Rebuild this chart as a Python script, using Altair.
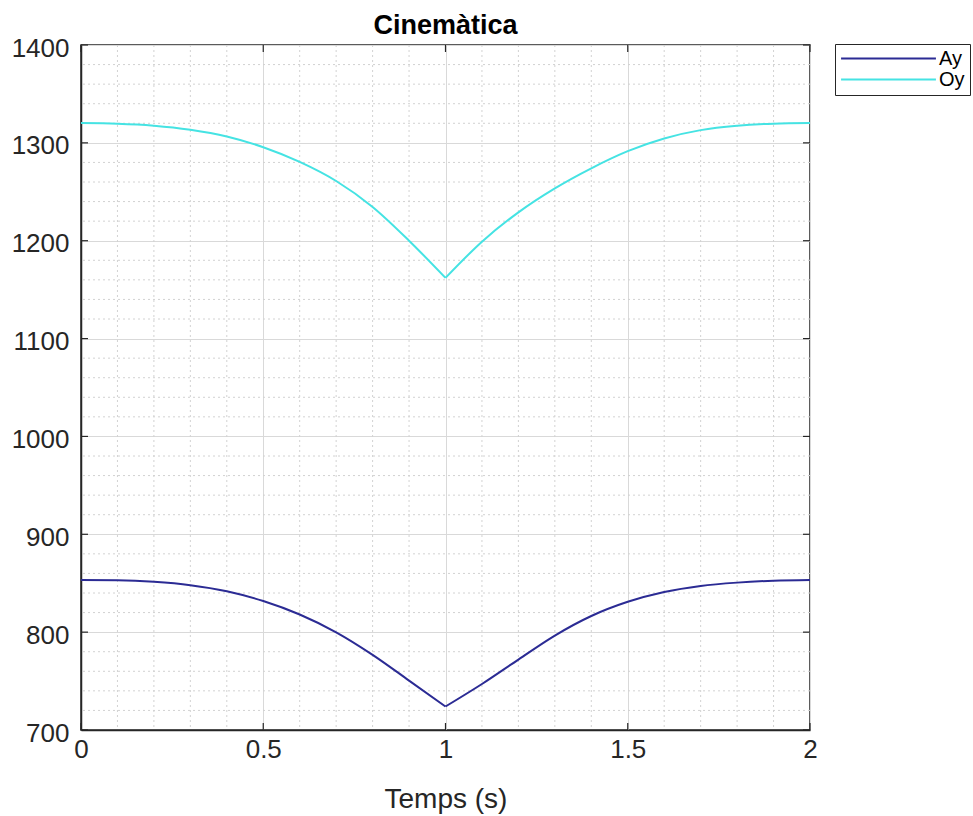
import altair as alt
import pandas as pd

# Time samples (s)
t = [0.0, 0.1, 0.2, 0.3, 0.4, 0.5, 0.6, 0.7, 0.8, 0.9, 1.0,
     1.1, 1.2, 1.3, 1.4, 1.5, 1.6, 1.7, 1.8, 1.9, 2.0]

# Vertical position of point A
ay = [853.3, 853.0, 851.4, 848.0, 841.8, 831.8, 818.0, 799.8, 776.8, 750.5, 724.0,
      747.0, 772.0, 796.5, 816.5, 831.0, 841.0, 847.2, 850.6, 852.6, 853.3]

# Vertical position of point O
oy = [1320.2, 1319.6, 1317.6, 1313.4, 1306.5, 1295.5, 1280.5, 1261.0, 1234.5, 1200.0, 1162.0,
      1199.0, 1229.0, 1253.5, 1274.0, 1291.5, 1304.5, 1313.0, 1317.5, 1319.6, 1320.2]

series_names = ["Ay", "Oy"]
series_colors = ["#2B2B94", "#45E3E3"]

x_ticks = [0, 0.5, 1, 1.5, 2]
y_ticks = [700, 800, 900, 1000, 1100, 1200, 1300, 1400]
x_minor = [0.1, 0.2, 0.3, 0.4, 0.6, 0.7, 0.8, 0.9, 1.1, 1.2, 1.3, 1.4, 1.6, 1.7, 1.8, 1.9]
y_minor = [720, 740, 760, 780, 820, 840, 860, 880, 920, 940, 960, 980,
           1020, 1040, 1060, 1080, 1120, 1140, 1160, 1180, 1220, 1240, 1260, 1280,
           1320, 1340, 1360, 1380]

W, H = 729, 685
FONT = "Liberation Sans"
INK = "#262626"

# Long table; each curve is split at the kink (t = 1) into two smooth branches
rows = []
for name, vals in zip(series_names, [ay, oy]):
    for ti, v in zip(t, vals):
        if ti <= 1.0:
            rows.append({"t": ti, "value": v, "series": name, "branch": name + "-1"})
        if ti >= 1.0:
            rows.append({"t": ti, "value": v, "series": name, "branch": name + "-2"})
df = pd.DataFrame(rows)

x_scale = alt.Scale(domain=[0, 2], nice=False, zero=False)
y_scale = alt.Scale(domain=[700, 1400], nice=False, zero=False)

x_axis = alt.Axis(values=x_ticks, format="~g", tickSize=0, labelPadding=6,
                  labelFlush=False, titlePadding=23,
                  grid=True, gridColor="#d9d9d9", gridWidth=1)
y_axis = alt.Axis(values=y_ticks, format="d", tickSize=0, labelPadding=12,
                  labelFlush=False, labelOffset=3,
                  grid=True, gridColor="#d9d9d9", gridWidth=1)

X = alt.X("t:Q", scale=x_scale, axis=x_axis, title="Temps (s)")
Y = alt.Y("value:Q", scale=y_scale, axis=y_axis, title=None)

# Dotted minor grid
minor_x = alt.Chart(pd.DataFrame({"t": x_minor})).mark_rule(
    color="#d2d2d2", strokeDash=[2, 3], strokeWidth=1
).encode(x=X)
minor_y = alt.Chart(pd.DataFrame({"value": y_minor})).mark_rule(
    color="#d2d2d2", strokeDash=[2, 3], strokeWidth=1
).encode(y=Y)

lines = alt.Chart(df).mark_line(strokeWidth=2, interpolate="monotone").encode(
    x=X,
    y=Y,
    detail="branch:N",
    color=alt.Color("series:N",
                    scale=alt.Scale(domain=series_names, range=series_colors),
                    legend=alt.Legend(title=None)),
)

# Inward tick marks on all four sides
xt = pd.DataFrame({"t": x_ticks})
yt = pd.DataFrame({"value": y_ticks})
tick_style = dict(color=INK, strokeWidth=1.2)
ticks_bottom = alt.Chart(xt).mark_rule(**tick_style).encode(
    x=X, y=alt.value(H), y2=alt.value(H - 7))
ticks_top = alt.Chart(xt).mark_rule(**tick_style).encode(
    x=X, y=alt.value(0), y2=alt.value(7))
ticks_left = alt.Chart(yt).mark_rule(**tick_style).encode(
    y=Y, x=alt.value(0), x2=alt.value(7))
ticks_right = alt.Chart(yt).mark_rule(**tick_style).encode(
    y=Y, x=alt.value(W), x2=alt.value(W - 7))

chart = alt.layer(
    minor_x, minor_y, lines, ticks_bottom, ticks_top, ticks_left, ticks_right
).properties(
    width=W, height=H,
    title=alt.TitleParams("Cinemàtica", font=FONT, fontSize=27, fontWeight="bold",
                          color="#000000", offset=-5, anchor="middle"),
    autosize=alt.AutoSizeParams(type="none"),
    padding={"left": 81, "top": 45, "right": 163, "bottom": 86},
    background="white",
).configure_view(
    stroke=INK, strokeWidth=1.5
).configure_axis(
    labelFont=FONT, labelFontSize=26, labelColor=INK,
    titleFont=FONT, titleFontSize=28, titleColor=INK, titleFontWeight="normal",
    domainColor=INK, domainWidth=1.5,
).configure_legend(
    orient="none", legendX=754, legendY=-1,
    strokeColor=INK, fillColor="white", padding=5,
    labelFont=FONT, labelFontSize=20, labelColor="#000000", labelOffset=2,
    symbolType="stroke", symbolSize=9000, symbolStrokeWidth=1.8,
    clipHeight=19, rowPadding=0, cornerRadius=0,
)

chart.save("out.html", embed_options={"renderer": "svg", "actions": False})
